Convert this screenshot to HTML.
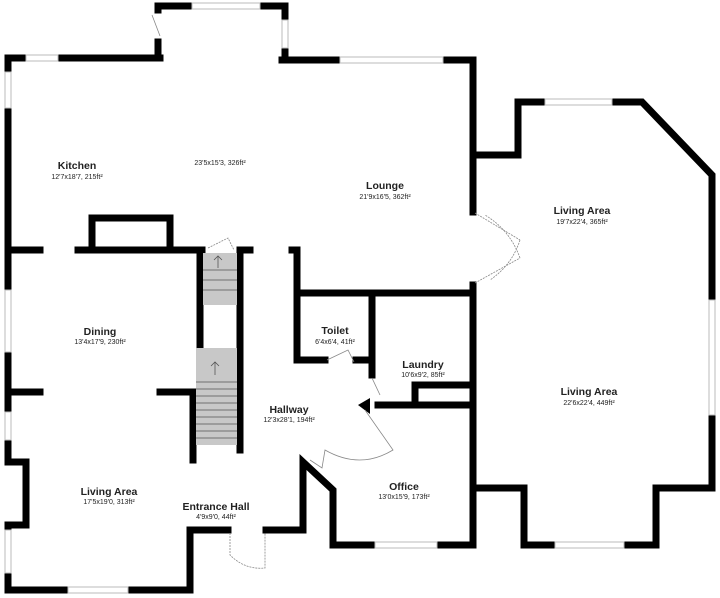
<!DOCTYPE html>
<html><head><meta charset="utf-8"><style>
html,body{margin:0;padding:0;background:#fff}
svg{display:block}
text{font-family:"Liberation Sans",sans-serif;fill:#222;text-anchor:middle}
.n{font-size:10.5px;font-weight:bold}
.d{font-size:7px}
</style></head><body>
<svg width="720" height="598" viewBox="0 0 720 598">
<g stroke="#000" stroke-width="7" fill="none" stroke-linecap="square">
<polyline points="158,10 158,6 285,6 285,20"/>
<polyline points="158,42 158,58"/>
<line x1="285" y1="48" x2="285" y2="60"/>
<polyline points="160,58 8,58 8,72"/>
<line x1="8" y1="108" x2="8" y2="290"/>
<polyline points="282,60 473,60 473,212"/>
<line x1="473" y1="285" x2="473" y2="545"/>
<polyline points="473,155 518,155 518,102 642,102 712,175 712,300"/>
<polyline points="712,415 712,488 656,488 656,545 524,545 524,488 473,488"/>
<line x1="8" y1="352" x2="8" y2="412"/>
<polyline points="8,440 8,462 26,462 26,525 8,525 8,530"/>
<polyline points="8,573 8,590 190,590 190,530 228,530"/>
<polyline points="266,530 303,530 303,462 333,490 333,545 473,545"/>
<line x1="8" y1="250" x2="40" y2="250"/>
<line x1="78" y1="250" x2="202" y2="250"/>
<polyline points="92,250 92,218 170,218 170,250"/>
<line x1="240" y1="250" x2="250" y2="250"/>
<line x1="200" y1="250" x2="200" y2="348"/>
<line x1="240" y1="250" x2="240" y2="450"/>
<polyline points="160,392 193,392 193,460"/>
<line x1="8" y1="392" x2="40" y2="392"/>
<polyline points="292,250 297,250 297,360 325,360"/>
<line x1="356" y1="360" x2="372" y2="360"/>
<line x1="297" y1="293" x2="473" y2="293"/>
<line x1="372" y1="293" x2="372" y2="375"/>
<line x1="378" y1="405" x2="473" y2="405"/>
<polyline points="415,405 415,385 473,385"/>
</g>
<polygon points="358,405 370,398 370,414" fill="#000"/>
<g fill="#fff" stroke="#bbb" stroke-width="1">
<rect x="192" y="3" width="68" height="6"/>
<rect x="282" y="20" width="6" height="28"/>
<rect x="26" y="55" width="32" height="6"/>
<rect x="5" y="72" width="6" height="36"/>
<rect x="340" y="57" width="103" height="6"/>
<rect x="545" y="99" width="67" height="6"/>
<rect x="709" y="300" width="6" height="115"/>
<rect x="555" y="542" width="69" height="6"/>
<rect x="5" y="290" width="6" height="62"/>
<rect x="5" y="412" width="6" height="28"/>
<rect x="5" y="530" width="6" height="43"/>
<rect x="68" y="587" width="60" height="6"/>
<rect x="375" y="542" width="62" height="6"/>
</g>
<rect x="203" y="253" width="34" height="52" fill="#c8c8c8"/>
<rect x="196" y="348" width="41" height="97" fill="#c8c8c8"/>
<g stroke="#555" stroke-width="0.8">
<line x1="203" y1="270" x2="237" y2="270"/><line x1="203" y1="280" x2="237" y2="280"/><line x1="203" y1="290" x2="237" y2="290"/>
<line x1="196" y1="382" x2="237" y2="382"/><line x1="196" y1="389" x2="237" y2="389"/><line x1="196" y1="396" x2="237" y2="396"/><line x1="196" y1="403" x2="237" y2="403"/><line x1="196" y1="410" x2="237" y2="410"/><line x1="196" y1="417" x2="237" y2="417"/><line x1="196" y1="424" x2="237" y2="424"/><line x1="196" y1="431" x2="237" y2="431"/><line x1="196" y1="438" x2="237" y2="438"/>
<path d="M218,268 V256 M214,260 L218,256 L222,260 M215,375 V362 M211,366 L215,362 L219,366" fill="none"/>
</g>
<g stroke="#888" stroke-width="0.8" fill="none">
<path d="M152,15 L160,36"/>
<path d="M208,248 L228,238 L234,250" stroke-dasharray="2,1"/>
<path d="M475,213 L520,240 M475,283 L520,258 M520,240 Q512,265 490,280 M520,258 Q510,230 485,215" stroke-dasharray="2,1"/>
<path d="M327,360 L348,350 L354,362"/>
<path d="M372,378 L380,395"/>
<path d="M365,410 L393,450 Q360,470 325,450 L322,468 L310,460"/>
<path d="M230,533 L230,555 Q245,570 265,568 L265,533" stroke-dasharray="2,1"/>
</g>
<text class="n" x="77" y="169">Kitchen</text><text class="d" x="77" y="179">12'7x18'7, 215ft²</text>
<text class="d" x="220" y="165">23'5x15'3, 326ft²</text>
<text class="n" x="385" y="189">Lounge</text><text class="d" x="385" y="199">21'9x16'5, 362ft²</text>
<text class="n" x="582" y="214">Living Area</text><text class="d" x="582" y="224">19'7x22'4, 365ft²</text>
<text class="n" x="100" y="335">Dining</text><text class="d" x="100" y="344">13'4x17'9, 230ft²</text>
<text class="n" x="335" y="334">Toilet</text><text class="d" x="335" y="344">6'4x6'4, 41ft²</text>
<text class="n" x="423" y="368">Laundry</text><text class="d" x="423" y="377">10'6x9'2, 85ft²</text>
<text class="n" x="589" y="395">Living Area</text><text class="d" x="589" y="405">22'6x22'4, 449ft²</text>
<text class="n" x="289" y="413">Hallway</text><text class="d" x="289" y="422">12'3x28'1, 194ft²</text>
<text class="n" x="404" y="490">Office</text><text class="d" x="404" y="499">13'0x15'9, 173ft²</text>
<text class="n" x="109" y="495">Living Area</text><text class="d" x="109" y="504">17'5x19'0, 313ft²</text>
<text class="n" x="216" y="510">Entrance Hall</text><text class="d" x="216" y="519">4'9x9'0, 44ft²</text>
</svg>
</body></html>
